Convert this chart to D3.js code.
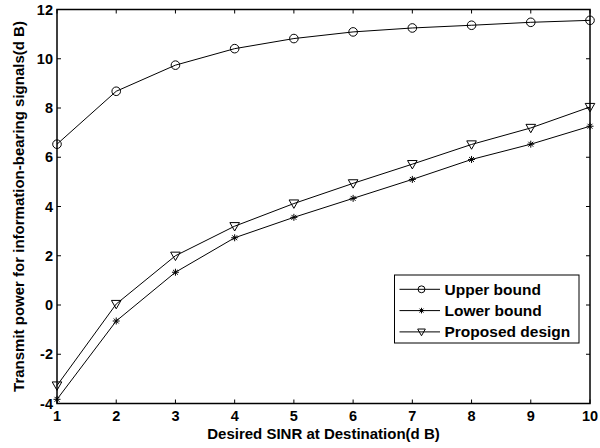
<!DOCTYPE html>
<html>
<head>
<meta charset="utf-8">
<script src="https://cdn.jsdelivr.net/npm/d3@7"></script>
<style>
  body { margin: 0; background: #fff; }
  text { font-family: "Liberation Sans", Arial, sans-serif; font-weight: bold; }
</style>
</head>
<body>
<div id="chart_root"></div>
<script>
// values
const sinr = [1, 2, 3, 4, 5, 6, 7, 8, 9, 10];
const upperBound = [6.53, 8.68, 9.74, 10.41, 10.82, 11.09, 11.25, 11.36, 11.48, 11.56];
const lowerBound = [-3.83, -0.65, 1.33, 2.73, 3.56, 4.33, 5.1, 5.91, 6.53, 7.26];
const proposed = [-3.27, 0.04, 2.0, 3.2, 4.12, 4.94, 5.72, 6.52, 7.19, 8.04];
const xTicks = [1, 2, 3, 4, 5, 6, 7, 8, 9, 10];
const yTicks = [-4, -2, 0, 2, 4, 6, 8, 10, 12];
const seriesNames = ["Upper bound", "Lower bound", "Proposed design"];

const W = 600, H = 448;
const margin = { top: 9.5, right: 10, bottom: 44.5, left: 57 };
const width = W - margin.left - margin.right;
const height = H - margin.top - margin.bottom;

const svg = d3.select("#chart_root")
    .append("svg")
    .attr("width", W)
    .attr("height", H)
    .append("g")
    .attr("transform", "translate(" + margin.left + "," + margin.top + ")");

const x = d3.scaleLinear().domain([1, 10]).range([0, width]);
const y = d3.scaleLinear().domain([-4, 12]).range([height, 0]);

// box
svg.append("rect")
    .attr("width", width)
    .attr("height", height)
    .attr("fill", "none")
    .attr("stroke", "#000")
    .attr("stroke-width", 1.5);

const tk = 4;
// ticks inward on all sides
svg.append("g").selectAll("line").data(xTicks).enter().append("line")
    .attr("x1", d => x(d)).attr("x2", d => x(d))
    .attr("y1", height).attr("y2", height - tk)
    .attr("stroke", "#000");
svg.append("g").selectAll("line").data(xTicks).enter().append("line")
    .attr("x1", d => x(d)).attr("x2", d => x(d))
    .attr("y1", 0).attr("y2", tk)
    .attr("stroke", "#000");
svg.append("g").selectAll("line").data(yTicks).enter().append("line")
    .attr("x1", 0).attr("x2", tk)
    .attr("y1", d => y(d)).attr("y2", d => y(d))
    .attr("stroke", "#000");
svg.append("g").selectAll("line").data(yTicks).enter().append("line")
    .attr("x1", width).attr("x2", width - tk)
    .attr("y1", d => y(d)).attr("y2", d => y(d))
    .attr("stroke", "#000");

// tick labels
svg.append("g").selectAll("text").data(xTicks).enter().append("text")
    .attr("x", d => x(d))
    .attr("y", height + 17)
    .attr("text-anchor", "middle")
    .style("font-size", "14.5px")
    .text(d => d);
svg.append("g").selectAll("text").data(yTicks).enter().append("text")
    .attr("x", -4)
    .attr("y", d => y(d) + 5)
    .attr("text-anchor", "end")
    .style("font-size", "14.5px")
    .text(d => d);

// axis titles
svg.append("text")
    .attr("x", width / 2)
    .attr("y", height + 35.5)
    .attr("text-anchor", "middle")
    .style("font-size", "15px")
    .text("Desired SINR at Destination(d B)");
svg.append("text")
    .attr("transform", "translate(" + (-33) + "," + (height / 2) + ") rotate(-90)")
    .attr("text-anchor", "middle")
    .style("font-size", "15px")
    .text("Transmit power for information-bearing signals(d B)");

const allSeries = [upperBound, lowerBound, proposed];
const markers = ["circle", "star", "triangle"];

const line = d3.line()
    .x((d, i) => x(sinr[i]))
    .y(d => y(d));

const drawMarker = (g, type, cx, cy, sc = 1) => {
    if (type === "circle") {
        g.append("circle").attr("cx", cx).attr("cy", cy).attr("r", 4.3 * sc)
            .attr("fill", "none").attr("stroke", "#000");
    } else if (type === "triangle") {
        const s = 4.8 * sc;
        g.append("path")
            .attr("d", `M${cx - s},${cy - s * 0.75}L${cx + s},${cy - s * 0.75}L${cx},${cy + s}Z`)
            .attr("fill", "none").attr("stroke", "#000");
    } else {
        const s = 3.5 * sc;
        const p = `M${cx - s},${cy}L${cx + s},${cy}M${cx},${cy - s}L${cx},${cy + s}` +
            `M${cx - s * 0.7},${cy - s * 0.7}L${cx + s * 0.7},${cy + s * 0.7}` +
            `M${cx - s * 0.7},${cy + s * 0.7}L${cx + s * 0.7},${cy - s * 0.7}`;
        g.append("path").attr("d", p).attr("fill", "none").attr("stroke", "#000");
    }
};

allSeries.forEach((vals, k) => {
    svg.append("path")
        .datum(vals)
        .attr("d", line)
        .attr("fill", "none")
        .attr("stroke", "#000")
        .attr("stroke-width", 1);
    const g = svg.append("g");
    vals.forEach((v, i) => drawMarker(g, markers[k], x(sinr[i]), y(v)));
});

// legend
const lgX = 394.5 - margin.left, lgY = 275 - margin.top;
const legend = svg.append("g").attr("transform", "translate(" + lgX + "," + lgY + ")");
legend.append("rect")
    .attr("width", 184.5)
    .attr("height", 68)
    .attr("fill", "#fff")
    .attr("stroke", "#000");
seriesNames.forEach((name, k) => {
    const ry = 14.3 + k * 21.3;
    legend.append("line")
        .attr("x1", 5).attr("x2", 45.5)
        .attr("y1", ry).attr("y2", ry)
        .attr("stroke", "#000");
    drawMarker(legend, markers[k], 27, ry, 0.8);
    legend.append("text")
        .attr("x", 50)
        .attr("y", ry + 5.5)
        .style("font-size", "15.5px")
        .text(name);
});
</script>
</body>
</html>
